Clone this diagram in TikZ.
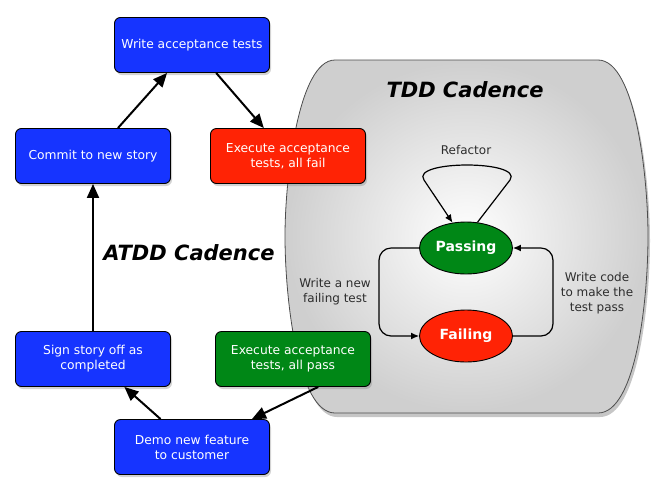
\documentclass[tikz,border=0pt]{standalone}
\usepackage{fontspec}
\setmainfont{DejaVu Sans}
\usetikzlibrary{arrows.meta,shadows,shapes.geometric}
\definecolor{boxblue}{RGB}{22,52,255}
\definecolor{boxred}{RGB}{255,35,5}
\definecolor{boxgreen}{RGB}{0,135,22}
\definecolor{labelgray}{RGB}{45,45,45}
\tikzset{
  stepbox/.style={draw=black, line width=0.9pt, rounded corners=6pt,
    minimum width=155pt, minimum height=55pt, inner sep=2pt,
    text=white, align=center, font=\fontsize{12.3}{15}\selectfont,
    drop shadow={shadow xshift=1.5pt, shadow yshift=-2.5pt, opacity=0.35}},
  statenode/.style={draw=black, line width=0.9pt, ellipse, minimum width=93pt,
    minimum height=52pt, inner sep=0pt, text=white,
    font=\bfseries\fontsize{14}{16}\selectfont},
  bigarrow/.style={line width=2pt, -{Triangle[length=14pt,width=12pt]}},
  tddarrow/.style={line width=1.2pt, -{Latex[length=8pt,width=7pt]}},
  tddlabel/.style={text=labelgray, align=center, font=\fontsize{12}{15}\selectfont},
  cadence/.style={font=\bfseries\itshape\fontsize{21}{24}\selectfont}
}
\begin{document}
\begin{tikzpicture}[x=1pt,y=-1pt]
\useasboundingbox (0,0) rectangle (672,496);
% TDD cadence background shape
\path[draw=black!70, line width=0.8pt, shading=radial, inner color=white, outer color=black!19,
  drop shadow={shadow xshift=2pt, shadow yshift=-4pt, opacity=0.45}]
  (335,60) -- (598,60) .. controls (636,60) and (648,180) .. (648,236)
  .. controls (648,300) and (636,413) .. (598,413) -- (335,413)
  .. controls (298,413) and (285,300) .. (285,236)
  .. controls (285,180) and (298,60) .. (335,60) -- cycle;
\node[cadence] (tddtitle) at (465,90) {TDD Cadence};
\node[cadence] (atddtitle) at (189,253) {ATDD Cadence};
% ATDD boxes
\node[stepbox, fill=boxblue] (write) at (192,45) {Write acceptance tests};
\node[stepbox, fill=boxred] (fail) at (288,156) {Execute acceptance\\tests, all fail};
\node[stepbox, fill=boxblue] (commit) at (93,156) {Commit to new story};
\node[stepbox, fill=boxblue] (sign) at (93,359) {Sign story off as\\completed};
\node[stepbox, fill=boxgreen] (pass) at (293,359) {Execute acceptance\\tests, all pass};
\node[stepbox, fill=boxblue] (demo) at (192,447) {Demo new feature\\to customer};
% ATDD arrows
\draw[bigarrow] (write) -- (fail);
\draw[bigarrow] (commit) -- (write);
\draw[bigarrow] (sign) -- (commit);
\draw[bigarrow] (demo) -- (sign);
\draw[bigarrow] (pass.-48) -- (demo.25);
% TDD states
\node[statenode, fill=boxgreen] (passing) at (466,248) {Passing};
\node[statenode, fill=boxred] (failing) at (466,336) {Failing};
\coordinate (r1) at (510,180);
\coordinate (r2) at (424,180);
\draw[tddarrow] (passing.66) -- (r1) .. controls (524,160) and (410,160) .. (r2) -- (passing.118);
\draw[tddarrow, rounded corners=12pt] (passing.west) -- ([xshift=-40pt]passing.west)
  -- ([xshift=-40pt]failing.west) -- (failing.west);
\draw[tddarrow, rounded corners=12pt] (failing.east) -- ([xshift=40pt]failing.east)
  -- ([xshift=40pt]passing.east) -- (passing.east);
\node[tddlabel] (refactor) at (466,150) {Refactor};
\node[tddlabel] (newtest) at (335,292) {Write a new\\failing test};
\node[tddlabel] (makepass) at (597,293) {Write code\\to make the\\test pass};
\end{tikzpicture}
\end{document}
